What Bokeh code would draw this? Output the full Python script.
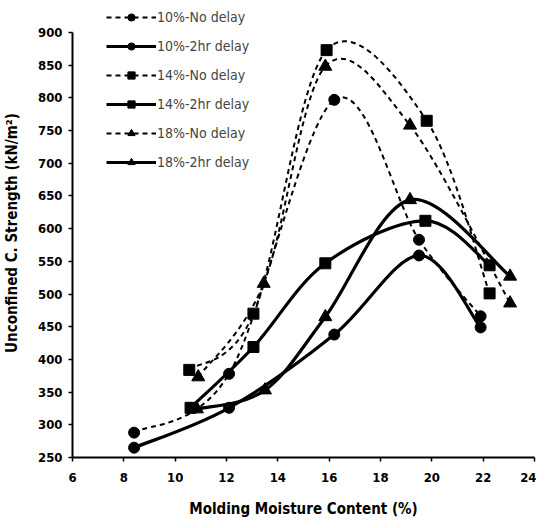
from bokeh.plotting import figure
from bokeh.models import Legend, LegendItem, SingleIntervalTicker, Range1d
from bokeh.embed import file_html
from bokeh.resources import INLINE

# ---- data ----
series_names = ["10%-No delay", "10%-2hr delay", "14%-No delay",
                "14%-2hr delay", "18%-No delay", "18%-2hr delay"]
x_10_nd = [8.4, 12.1, 16.2, 19.5, 21.9]
y_10_nd = [288, 378, 797, 583, 466]
x_10_2h = [8.4, 12.1, 16.2, 19.5, 21.9]
y_10_2h = [265, 326, 438, 559, 449]
x_14_nd = [10.55, 13.05, 15.9, 19.8, 22.25]
y_14_nd = [384, 470, 873, 765, 501]
x_14_2h = [10.6, 13.05, 15.85, 19.75, 22.25]
y_14_2h = [326, 419, 547, 612, 544]
x_18_nd = [10.9, 13.45, 15.85, 19.15, 23.05]
y_18_nd = [373, 516, 848, 758, 486]
x_18_2h = [10.85, 13.5, 15.85, 19.15, 23.05]
y_18_2h = [324, 353, 465, 644, 527]

xs = [x_10_nd, x_10_2h, x_14_nd, x_14_2h, x_18_nd, x_18_2h]
ys = [y_10_nd, y_10_2h, y_14_nd, y_14_2h, y_18_nd, y_18_2h]
markers = ["circle", "circle", "square", "square", "triangle", "triangle"]
dashed = [True, False, True, False, True, False]

FONT = "'DejaVu Sans Condensed', 'Liberation Sans', sans-serif"

# frame extends above 900 to make room for the legend; axis is bounded to 250-900
p = figure(width=536, height=520, output_backend="svg", toolbar_location=None,
           x_range=Range1d(6, 24), y_range=Range1d(250, 936.7),
           min_border_left=62, min_border_right=2, min_border_top=8,
           min_border_bottom=63)
p.outline_line_color = None
p.xgrid.visible = False
p.ygrid.visible = False
p.background_fill_color = "white"


def smooth_segments(x, y):
    n = len(x)
    x0, y0, x1, y1, cx0, cy0, cx1, cy1 = [], [], [], [], [], [], [], []
    for i in range(n - 1):
        xm = x[i - 1] if i > 0 else x[i]
        ym = y[i - 1] if i > 0 else y[i]
        xp = x[i + 2] if i + 2 < n else x[i + 1]
        yp = y[i + 2] if i + 2 < n else y[i + 1]
        x0.append(x[i]); y0.append(y[i]); x1.append(x[i + 1]); y1.append(y[i + 1])
        cx0.append(x[i] + (x[i + 1] - xm) / 6.0)
        cy0.append(y[i] + (y[i + 1] - ym) / 6.0)
        cx1.append(x[i + 1] - (xp - x[i]) / 6.0)
        cy1.append(y[i + 1] - (yp - y[i]) / 6.0)
    return dict(x0=x0, y0=y0, x1=x1, y1=y1, cx0=cx0, cy0=cy0, cx1=cx1, cy1=cy1)


items = []
for name, x, y, m, d in zip(series_names, xs, ys, markers, dashed):
    seg = smooth_segments(x, y)
    if d:
        r_line = p.bezier(**seg, line_color="black", line_width=2, line_dash="5 4")
    else:
        r_line = p.bezier(**seg, line_color="black", line_width=3.2)
    size = 13 if m == "triangle" else 11
    r_pt = p.scatter(x, y, marker=m, size=size, fill_color="black", line_color="black")
    items.append(LegendItem(label=name, renderers=[r_line, r_pt]))

legend = Legend(items=items, location=(34, 286), orientation="vertical")
legend.background_fill_alpha = 0
legend.border_line_color = None
legend.label_text_font = FONT
legend.label_text_font_size = "14px"
legend.label_text_font_style = "normal"
legend.glyph_width = 50
legend.glyph_height = 18
legend.label_height = 18
legend.spacing = 11
legend.padding = 0
legend.margin = 0
legend.label_standoff = 1
p.add_layout(legend, "center")

p.xaxis.ticker = SingleIntervalTicker(interval=2)
p.yaxis.ticker = SingleIntervalTicker(interval=50)
p.yaxis.bounds = (250, 900)
for ax in (p.xaxis[0], p.yaxis[0]):
    ax.axis_line_width = 2
    ax.axis_line_color = "black"
    ax.major_tick_line_width = 1.5
    ax.major_tick_in = 0
    ax.major_tick_out = 4
    ax.minor_tick_line_color = None
    ax.major_label_text_font = FONT
    ax.major_label_text_font_style = "bold"
    ax.major_label_text_font_size = "13px"
    ax.axis_label_text_font = FONT
    ax.axis_label_text_font_style = "bold"
    ax.axis_label_text_font_size = "15px"
    ax.major_label_text_color = "black"
    ax.axis_label_text_color = "black"

p.xaxis.axis_label = "Molding Moisture Content (%)"
p.yaxis.axis_label = "Unconfined C. Strength (kN/m²)"
p.xaxis.major_label_standoff = 11
p.xaxis.axis_label_standoff = 15
p.yaxis.major_label_standoff = 6
p.yaxis.axis_label_standoff = 14

open("out.html", "w").write(file_html(p, INLINE))
